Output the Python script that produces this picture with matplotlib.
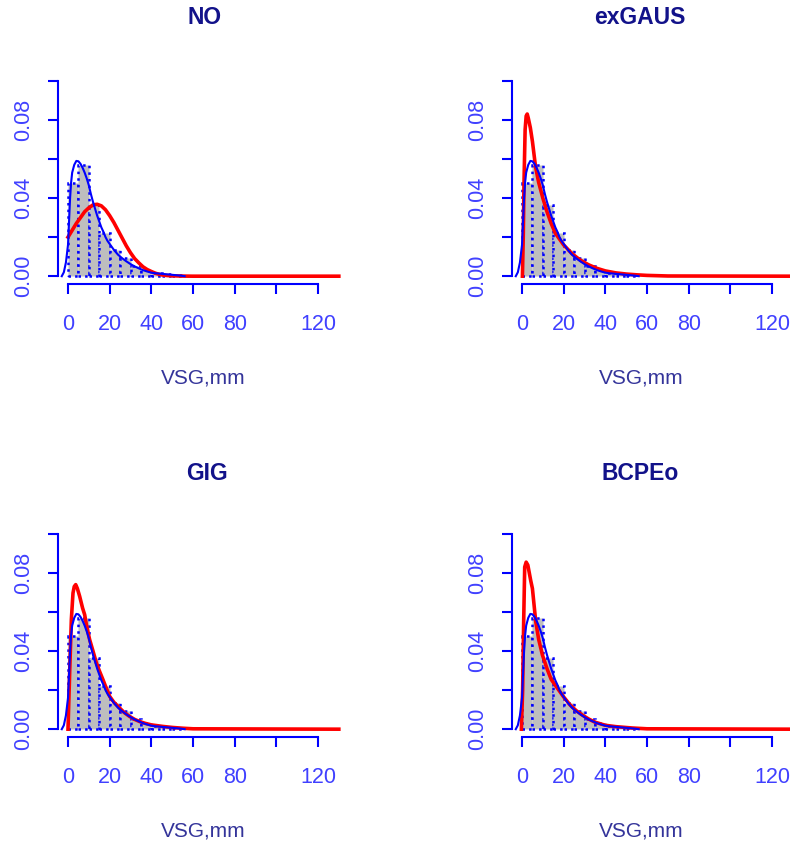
import matplotlib
matplotlib.use('Agg')
import matplotlib.pyplot as plt
import numpy as np

plt.rcParams['font.family'] = ['Liberation Sans', 'DejaVu Sans']

# histogram of VSG (bin width 5) -- density heights
bin_left = [0, 5, 10, 15, 20, 25, 30, 35, 40, 45, 50]
bin_height = [0.0475, 0.0568, 0.0364, 0.0219, 0.0135, 0.0092, 0.0052, 0.0030, 0.0018, 0.0012, 0.0008]

# kernel density (blue)
kde_x = [-3, -2, -1, 0, 0.5, 1, 1.5, 2, 3, 4, 5, 6, 7, 8, 9, 10, 11, 12, 13, 14, 15,
         16, 17, 18, 19, 20, 22, 24, 26, 28, 30, 32, 34, 36, 38, 40, 42, 45, 48, 50, 52, 54, 56]
kde_y = [0, 0.002, 0.007, 0.016, 0.028, 0.040, 0.048, 0.053, 0.057, 0.059, 0.0588, 0.0575,
         0.0555, 0.053, 0.050, 0.0465, 0.042, 0.038, 0.0345, 0.031, 0.028, 0.025, 0.0227,
         0.020, 0.018, 0.0165, 0.0135, 0.011, 0.0092, 0.0076, 0.0062, 0.005, 0.004, 0.0031,
         0.0024, 0.0018, 0.0015, 0.0012, 0.0009, 0.0007, 0.0005, 0.0003, 0]

# fitted densities (red)
no_x = [0, 2, 4, 6, 8, 10, 12, 14, 16, 18, 20, 22, 24, 26, 28, 30, 32, 34, 36, 38, 40,
        42, 44, 46, 48, 50, 55, 60, 130]
no_y = [0.020, 0.0235, 0.027, 0.030, 0.033, 0.035, 0.0365, 0.0368, 0.036, 0.034, 0.031,
        0.0275, 0.0235, 0.0195, 0.0155, 0.012, 0.009, 0.0068, 0.0048, 0.0034, 0.0024,
        0.0015, 0.0009, 0.0005, 0.0003, 0.0002, 0.00005, 0, 0]

exgaus_x = [0.2, 0.6, 1, 1.5, 2, 2.5, 3, 4, 5, 6.5, 8, 10, 12, 14, 16, 18, 20, 24, 28,
            32, 36, 40, 45, 50, 55, 60, 70, 130]
exgaus_y = [0, 0.02, 0.05, 0.075, 0.082, 0.083, 0.081, 0.076, 0.069, 0.056, 0.048, 0.040,
            0.033, 0.027, 0.022, 0.019, 0.016, 0.0115, 0.0082, 0.0058, 0.004, 0.0027,
            0.0017, 0.0011, 0.0007, 0.0004, 0.0001, 0]

gig_x = [0, 0.8, 1.6, 2.4, 3, 3.7, 4.5, 5.6, 7, 8, 9, 10.4, 12, 13.6, 15, 16.8, 18, 20,
         22, 24.8, 27, 29.6, 32, 34.4, 37, 40, 45.6, 50, 55, 60, 130]
gig_y = [0, 0.029, 0.056, 0.0697, 0.073, 0.074, 0.072, 0.068, 0.062, 0.0586, 0.0525,
         0.0458, 0.040, 0.034, 0.030, 0.0253, 0.022, 0.0168, 0.0138, 0.0108, 0.0085,
         0.0065, 0.005, 0.0039, 0.003, 0.0022, 0.0014, 0.0009, 0.0005, 0.0002, 0]

bcpe_x = [-0.3, 0.3, 0.8, 1.3, 2, 2.8, 3.5, 4.2, 5, 6.6, 8, 9.8, 12, 14, 17, 20, 23,
          26, 29, 32, 35, 40, 45, 53, 60, 130]
bcpe_y = [0, 0.02, 0.055, 0.083, 0.0855, 0.084, 0.080, 0.076, 0.072, 0.055, 0.046,
          0.038, 0.031, 0.0255, 0.021, 0.0165, 0.0125, 0.0095, 0.0072, 0.0052, 0.0036,
          0.002, 0.0013, 0.0006, 0.0002, 0]

titles = ['NO', 'exGAUS', 'GIG', 'BCPEo']
fits = [(no_x, no_y), (exgaus_x, exgaus_y), (gig_x, gig_y), (bcpe_x, bcpe_y)]

W, H = 790, 841
fig = plt.figure(figsize=(W / 100, H / 100), dpi=100)

# panel boxes in pixels: left, top, right, bottom
boxes = [(58, 73, 328, 284), (512, 73, 782, 284),
         (58, 526, 328, 737), (512, 526, 782, 737)]
title_pos = [(205, 18), (640, 18), (207, 474), (640, 474)]
xlab_pos = [(203, 378), (641, 378), (203, 831), (641, 831)]

for i in range(4):
    l, t, r, b = boxes[i]
    ax = fig.add_axes([l / W, 1 - b / H, (r - l) / W, (b - t) / H])
    ax.bar(bin_left, bin_height, width=5, align='edge', color='#bebebe',
           edgecolor='blue', linestyle=':', linewidth=1.8, zorder=1)
    fx, fy = fits[i]
    ax.plot(fx, fy, color='red', lw=2.6, zorder=2, clip_on=False)
    ax.plot(kde_x, kde_y, color='blue', lw=1.5, zorder=3)
    ax.set_xlim(-4.8, 124.8)
    ax.set_ylim(-0.004, 0.104)
    for s in ['top', 'right']:
        ax.spines[s].set_visible(False)
    ax.spines['left'].set_bounds(0, 0.1)
    ax.spines['bottom'].set_bounds(0, 120)
    for s in ['left', 'bottom']:
        ax.spines[s].set_color('blue')
        ax.spines[s].set_linewidth(1.5)
    ax.set_xticks([0, 20, 40, 60, 80, 100, 120],
                  labels=['0', '20', '40', '60', '80', '', '120'])
    ax.set_yticks([0, 0.02, 0.04, 0.06, 0.08, 0.10],
                  labels=['0.00', '', '0.04', '', '0.08', ''])
    ax.tick_params(axis='both', colors='blue', labelcolor='#4040ff',
                   length=7.5, width=1.5, labelsize=15.5)
    ax.tick_params(axis='x', pad=14)
    ax.tick_params(axis='y', pad=10)
    for lab in ax.get_yticklabels():
        lab.set_rotation(90)
        lab.set_va('center')
    ax.patch.set_alpha(0)

    fig.text(title_pos[i][0] / W, 1 - title_pos[i][1] / H, titles[i],
             ha='center', va='center', fontsize=16.5, fontweight='bold', color='#12128a')
    fig.text(xlab_pos[i][0] / W, 1 - xlab_pos[i][1] / H, 'VSG,mm',
             ha='center', va='center', fontsize=15, color='#34349a')

fig.savefig('out.png', dpi=100)
